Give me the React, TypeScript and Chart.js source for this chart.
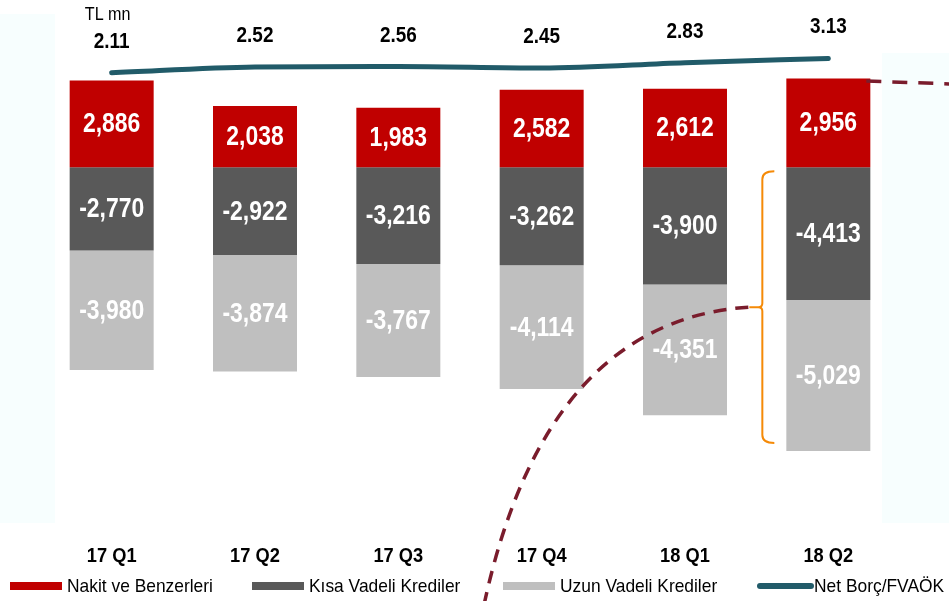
import { useEffect, useRef } from 'react';
import { Chart, registerables } from 'chart.js';

Chart.register(...registerables);

const categories = ['17 Q1', '17 Q2', '17 Q3', '17 Q4', '18 Q1', '18 Q2'];
const cashValues = [2886, 2038, 1983, 2582, 2612, 2956];
const shortTermLoans = [-2770, -2922, -3216, -3262, -3900, -4413];
const longTermLoans = [-3980, -3874, -3767, -4114, -4351, -5029];
const netDebtToEbitda = [2.11, 2.52, 2.56, 2.45, 2.83, 3.13];

const seriesNames = ['Nakit ve Benzerleri', 'Kısa Vadeli Krediler', 'Uzun Vadeli Krediler', 'Net Borç/FVAÖK'];
const unitLabel = 'TL mn';

const RED = '#c00000';
const DARK = '#595959';
const LIGHT = '#bfbfbf';
const TEAL = '#215b69';
const FONT = '"Liberation Sans", Arial, sans-serif';

const fmt = (v: number) => v.toLocaleString('en-US');

function narrowText(
  ctx: CanvasRenderingContext2D,
  s: string,
  x: number,
  y: number,
  size: number,
  bold: boolean,
  sx: number,
  color: string,
  align: CanvasTextAlign = 'center'
) {
  ctx.save();
  ctx.font = `${bold ? 'bold ' : ''}${size}px ${FONT}`;
  ctx.textAlign = align;
  ctx.textBaseline = 'middle';
  ctx.fillStyle = color;
  ctx.translate(x, y);
  ctx.scale(sx, 1);
  ctx.fillText(s, 0, 0);
  ctx.restore();
}

const decorPlugin = {
  id: 'decor',
  beforeDraw(chart: any) {
    const ctx = chart.ctx;
    ctx.save();
    ctx.fillStyle = '#f7fefe';
    ctx.fillRect(0, 14, 55, 509);
    ctx.fillRect(882, 53, 67, 470);
    ctx.restore();
  },
  afterDatasetsDraw(chart: any) {
    const ctx = chart.ctx;
    // bar value labels
    [1, 2, 3].forEach((di) => {
      const meta = chart.getDatasetMeta(di);
      const data = chart.data.datasets[di].data as number[];
      meta.data.forEach((el: any, i: number) => {
        const cy = (el.y + el.base) / 2;
        narrowText(ctx, fmt(data[i]), el.x, cy + 1, 27, true, 0.85, '#ffffff');
      });
    });
    // line labels
    const lineMeta = chart.getDatasetMeta(0);
    lineMeta.data.forEach((pt: any, i: number) => {
      narrowText(ctx, netDebtToEbitda[i].toFixed(2), pt.x, pt.y - 31, 22, true, 0.86, '#000000');
    });
    const p0 = lineMeta.data[0];
    narrowText(ctx, unitLabel, p0.x - 4, p0.y - 58, 19, false, 0.85, '#000000');

    // category labels from the x scale
    const xs = chart.scales.x;
    categories.forEach((c, i) => {
      narrowText(ctx, c, xs.getPixelForValue(i), chart.chartArea.bottom + 20, 21, true, 0.87, '#000000');
    });

    ctx.save();
    // bracket around last bar's loans
    const sMeta = chart.getDatasetMeta(2);
    const last = sMeta.data.length - 1;
    const el = sMeta.data[last];
    const yScale = chart.scales.y;
    const top = yScale.getPixelForValue(0) + 4;
    const bottom = yScale.getPixelForValue(shortTermLoans[last] + longTermLoans[last]) - 8;
    const bx = el.x - el.width / 2 - 24;
    const xr = bx + 12;
    const mid = (top + bottom) / 2;
    ctx.strokeStyle = '#f58a07';
    ctx.lineWidth = 2;
    ctx.beginPath();
    ctx.moveTo(xr, top);
    ctx.quadraticCurveTo(bx, top, bx, top + 8);
    ctx.lineTo(bx, mid - 4);
    ctx.quadraticCurveTo(bx, mid, bx - 4, mid);
    ctx.lineTo(bx - 13, mid);
    ctx.moveTo(bx - 4, mid);
    ctx.quadraticCurveTo(bx, mid, bx, mid + 4);
    ctx.lineTo(bx, bottom - 8);
    ctx.quadraticCurveTo(bx, bottom, xr, bottom);
    ctx.stroke();

    // dashed connector curves
    ctx.strokeStyle = '#7a1c2c';
    ctx.lineWidth = 3.5;
    ctx.setLineDash([13, 9]);
    ctx.beginPath();
    ctx.moveTo(bx - 14, mid);
    ctx.quadraticCurveTo(545, mid + 14, 484, 605);
    ctx.stroke();
    const rEl = chart.getDatasetMeta(1).data[last];
    ctx.setLineDash([15, 11]);
    ctx.beginPath();
    ctx.moveTo(rEl.x + el.width / 2 - 4, 81);
    ctx.lineTo(952, 84);
    ctx.stroke();
    ctx.restore();
  },
  afterDraw(chart: any) {
    const ctx = chart.ctx;
    ctx.save();
    const starts = [10, 252, 503, 757];
    const colors = [RED, DARK, LIGHT, TEAL];
    const y = 586;
    starts.forEach((sx, i) => {
      if (i < 3) {
        ctx.fillStyle = colors[i];
        ctx.fillRect(sx, y - 4, 52, 8);
      } else {
        ctx.strokeStyle = colors[i];
        ctx.lineWidth = 6;
        ctx.lineCap = 'round';
        ctx.beginPath();
        ctx.moveTo(sx + 3, y);
        ctx.lineTo(sx + 54, y);
        ctx.stroke();
      }
      narrowText(ctx, seriesNames[i], sx + 57, y + 1, 19, false, 0.915, '#000000', 'left');
    });
    ctx.restore();
  },
};

export default function App() {
  const ref = useRef<HTMLCanvasElement | null>(null);
  useEffect(() => {
    if (!ref.current) return;
    const chart = new Chart(ref.current, {
      type: 'bar',
      data: {
        labels: categories,
        datasets: [
          {
            type: 'line',
            label: seriesNames[3],
            data: netDebtToEbitda,
            yAxisID: 'y1',
            borderColor: TEAL,
            backgroundColor: TEAL,
            borderWidth: 5,
            borderCapStyle: 'round',
            pointRadius: 0,
            tension: 0.35,
            cubicInterpolationMode: 'monotone',
            order: 0,
          } as any,
          {
            label: seriesNames[0],
            data: cashValues,
            backgroundColor: RED,
            stack: 's',
            order: 1,
          },
          {
            label: seriesNames[1],
            data: shortTermLoans,
            backgroundColor: DARK,
            stack: 's',
            order: 1,
          },
          {
            label: seriesNames[2],
            data: longTermLoans,
            backgroundColor: LIGHT,
            stack: 's',
            order: 1,
          },
        ],
      },
      options: {
        animation: false,
        responsive: false,
        maintainAspectRatio: false,
        layout: { padding: { left: 40, right: 49, top: 17, bottom: 65 } },
        datasets: {
          bar: { barPercentage: 0.586, categoryPercentage: 1 },
        },
        plugins: {
          legend: { display: false },
          tooltip: { enabled: false },
        },
        scales: {
          x: {
            stacked: true,
            grid: { display: false, drawTicks: false },
            border: { display: false },
            ticks: { display: false },
          },
          y: {
            display: false,
            stacked: true,
            min: -12270,
            max: 5000,
          },
          y1: {
            display: false,
            min: -30.68,
            max: 6.06,
          },
        },
      },
      plugins: [decorPlugin],
    });
    return () => chart.destroy();
  }, []);
  return (
    <div style={{ position: 'absolute', left: 0, top: 0, width: 949, height: 601, background: '#ffffff' }}>
      <canvas ref={ref} width={949} height={601} style={{ display: 'block', width: 949, height: 601 }} />
    </div>
  );
}
